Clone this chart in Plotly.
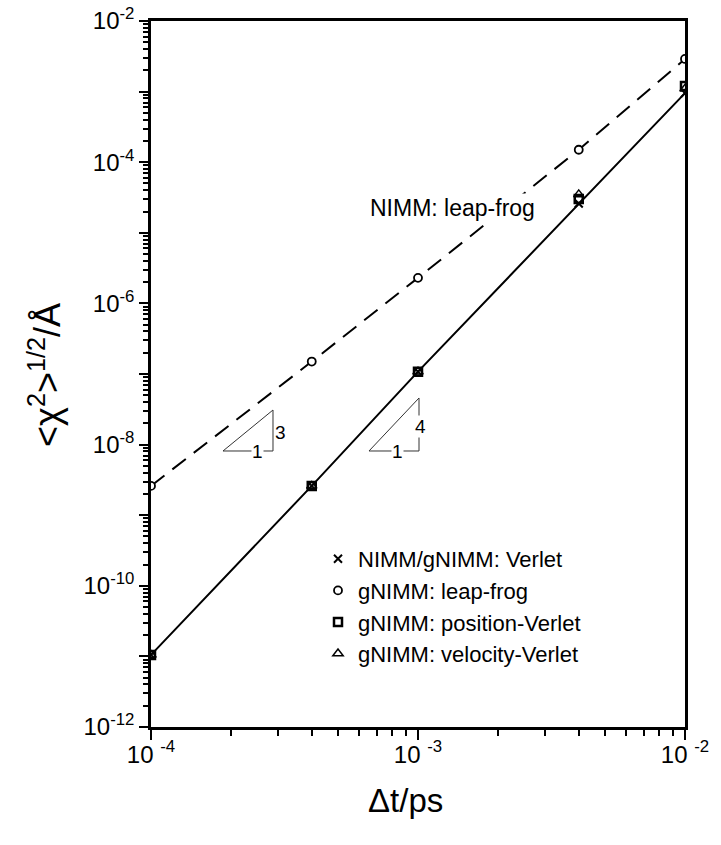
import plotly.graph_objects as go

# ---------------- data ----------------
dt = [1e-4, 4e-4, 1e-3, 4e-3, 1e-2]
verlet = [1.05e-11, 2.6e-9, 1.08e-7, 2.6e-5, 9.5e-4]
leapfrog = [2.6e-9, 1.5e-7, 2.3e-6, 1.5e-4, 2.9e-3]
pos_verlet = [1.05e-11, 2.6e-9, 1.08e-7, 3.0e-5, 1.2e-3]
vel_verlet = [1.05e-11, 2.6e-9, 1.08e-7, 3.5e-5, 1.1e-3]

x_tickvals = [1e-4, 1e-3, 1e-2]
x_ticktext = ["10 <sup>-4</sup>", "10 <sup>-3</sup>", "10 <sup>-2</sup>"]
y_tickvals = [10.0 ** e for e in range(-12, -1)]
y_ticktext = [("10<sup>%d</sup>" % e) if e % 2 == 0 else "" for e in range(-12, -1)]
x_minor = [m * 10.0 ** e for e in (-4, -3) for m in range(2, 10)]
y_minor = [m * 10.0 ** e for e in range(-12, -2) for m in range(2, 10)]

legend_names = ["NIMM/gNIMM: Verlet", "gNIMM: leap-frog",
                "gNIMM: position-Verlet", "gNIMM: velocity-Verlet"]

# ---------------- layout geometry (page pixels) ----------------
W, H = 721, 845
L, R, T, B = 151, 685, 21, 727  # plot area in page pixels
FONT = "Liberation Sans, Arial, Helvetica, sans-serif"


def px(x):
    return (x - L) / (R - L)


def py(y):
    return (B - y) / (B - T)


fig = go.Figure()

# lines
fig.add_trace(go.Scatter(x=dt, y=leapfrog, mode="lines", showlegend=False,
                         line=dict(color="black", width=2, dash="17px,10px")))
fig.add_trace(go.Scatter(x=dt, y=verlet, mode="lines", showlegend=False,
                         line=dict(color="black", width=2)))

# markers
fig.add_trace(go.Scatter(x=dt, y=pos_verlet, mode="markers", name=legend_names[2],
                         legendrank=3,
                         marker=dict(symbol="square-open", size=8, color="black",
                                     line=dict(width=2.5, color="black"))))
fig.add_trace(go.Scatter(x=dt, y=vel_verlet, mode="markers", name=legend_names[3],
                         legendrank=4,
                         marker=dict(symbol="triangle-up-open", size=9, color="black",
                                     line=dict(width=1.5, color="black"))))
fig.add_trace(go.Scatter(x=dt, y=verlet, mode="markers", name=legend_names[0],
                         legendrank=1,
                         marker=dict(symbol="x-thin-open", size=8, color="black",
                                     line=dict(width=2, color="black"))))
fig.add_trace(go.Scatter(x=dt, y=leapfrog, mode="markers", name=legend_names[1],
                         legendrank=2,
                         marker=dict(symbol="circle", size=8, color="white",
                                     line=dict(width=1.8, color="black"))))

axis_common = dict(
    type="log", showline=True, linecolor="black", linewidth=2.5, mirror=True,
    ticks="outside", tickcolor="black", tickwidth=2, showgrid=False, zeroline=False,
    tickmode="array", automargin=False,
    tickfont=dict(family=FONT, size=24, color="black"),
)

fig.update_layout(
    width=W, height=H,
    margin=dict(l=L, r=W - R, t=T, b=H - B, pad=0, autoexpand=False),
    plot_bgcolor="white", paper_bgcolor="white",
    font=dict(family=FONT, color="black"),
    xaxis=dict(**axis_common, range=[-4, -2], tickvals=x_tickvals, ticktext=x_ticktext,
               ticklen=10, ticklabelstandoff=-6,
               minor=dict(tickmode="array", tickvals=x_minor, ticks="outside",
                          ticklen=6, tickwidth=2, tickcolor="black", showgrid=False)),
    yaxis=dict(**axis_common, range=[-12, -2], tickvals=y_tickvals, ticktext=y_ticktext,
               ticklen=9,
               minor=dict(tickmode="array", tickvals=y_minor, ticks="outside",
                          ticklen=5, tickwidth=2, tickcolor="black", showgrid=False)),
    legend=dict(x=px(318), y=py(538), xanchor="left", yanchor="top",
                bgcolor="rgba(0,0,0,0)", borderwidth=0,
                traceorder="normal", itemwidth=30, tracegroupgap=0,
                font=dict(family=FONT, size=22, color="black")),
    showlegend=True,
)

# axis titles
fig.add_annotation(x=px(405), y=py(800), xref="paper", yref="paper", showarrow=False,
                   text="Δt/ps", font=dict(family=FONT, size=33, color="black"),
                   xanchor="center", yanchor="middle")
fig.add_annotation(x=px(45), y=py(375), xref="paper", yref="paper", showarrow=False,
                   text="&lt;χ<sup>2</sup>&gt;<sup>1/2</sup>/Å", textangle=-90,
                   font=dict(family=FONT, size=36, color="black"),
                   xanchor="center", yanchor="middle")

# curve label
fig.add_annotation(x=px(452), y=py(208), xref="paper", yref="paper", showarrow=False,
                   text="NIMM: leap-frog", bgcolor="white",
                   font=dict(family=FONT, size=23, color="black"),
                   xanchor="center", yanchor="middle")

# slope triangles
for (xl, xr, yb, yt, num) in [(223, 273, 451, 410, "3"), (369, 419, 451, 398, "4")]:
    fig.add_shape(type="path", xref="paper", yref="paper",
                  path="M %f %f L %f %f L %f %f Z" % (px(xl), py(yb), px(xr), py(yb), px(xr), py(yt)),
                  line=dict(color="#333", width=1))
    fig.add_annotation(x=px((xl + xr) / 2 + 3), y=py(yb), xref="paper", yref="paper",
                       showarrow=False, text="1", bgcolor="white", borderpad=0,
                       font=dict(family=FONT, size=19, color="black"))
    fig.add_annotation(x=px(xr + 1), y=py((yb + yt) / 2 + 2), xref="paper", yref="paper",
                       showarrow=False, text=num, bgcolor="white", borderpad=0,
                       font=dict(family=FONT, size=19, color="black"))

fig.write_html("out.html", config={"displayModeBar": False},
               post_script="document.body.style.margin='0px';document.body.style.overflow='hidden';")
